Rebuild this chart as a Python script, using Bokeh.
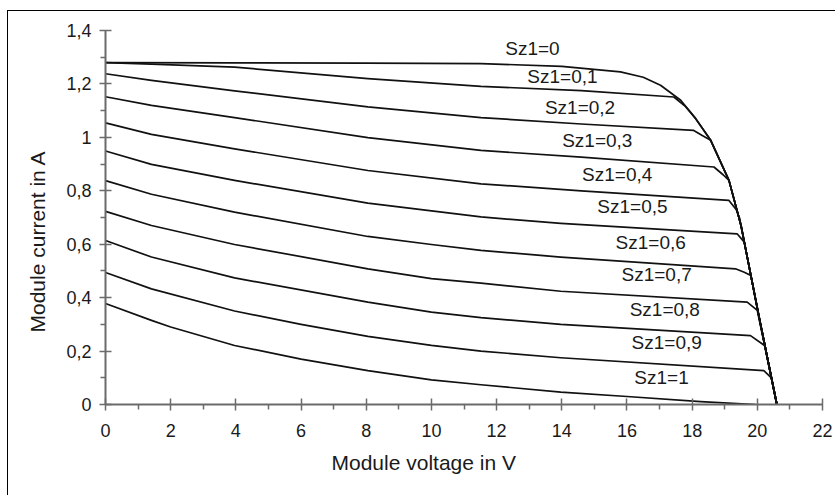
from bokeh.plotting import figure
from bokeh.models import Range1d, FixedTicker, ColumnDataSource, Title
from bokeh.embed import file_html
from bokeh.resources import INLINE
from bokeh.core.properties import value

# ---------------- data ----------------
v_sz0 = [0, 4, 8, 11.52, 14, 15.8, 16.5, 17.03, 17.65, 18.11, 18.57, 19.13, 19.5, 20.05, 20.6]
i_sz0 = [1.280, 1.279, 1.278, 1.276, 1.266, 1.245, 1.225, 1.195, 1.139, 1.07, 0.989, 0.839, 0.67, 0.33, 0.0]

v_sz01 = [0, 1.41, 3.96, 8.05, 11.52, 14.6, 17.44, 17.8, 18.11, 18.57, 19.13, 19.5, 20.05, 20.6]
i_sz01 = [1.280, 1.274, 1.263, 1.220, 1.191, 1.175, 1.151, 1.115, 1.07, 0.989, 0.839, 0.67, 0.33, 0.0]

v_sz02 = [0, 1.41, 3.96, 8.05, 11.52, 14.6, 18.05, 18.31, 18.57, 19.13, 19.5, 20.05, 20.6]
i_sz02 = [1.238, 1.213, 1.174, 1.114, 1.074, 1.050, 1.026, 1.007, 0.989, 0.839, 0.67, 0.33, 0.0]

v_sz03 = [0, 1.41, 3.96, 8.05, 11.52, 14.6, 18.67, 18.95, 19.13, 19.5, 20.05, 20.6]
i_sz03 = [1.152, 1.120, 1.074, 0.999, 0.951, 0.926, 0.889, 0.86, 0.839, 0.67, 0.33, 0.0]

v_sz04 = [0, 1.41, 3.96, 8.05, 11.52, 14.6, 19.13, 19.35, 19.45, 20.05, 20.6]
i_sz04 = [1.054, 1.011, 0.957, 0.876, 0.826, 0.800, 0.764, 0.73, 0.70, 0.33, 0.0]

v_sz05 = [0, 1.41, 3.96, 8.05, 11.52, 13.97, 19.38, 19.6, 20.05, 20.6]
i_sz05 = [0.949, 0.899, 0.839, 0.754, 0.702, 0.678, 0.639, 0.608, 0.33, 0.0]

v_sz06 = [0, 1.41, 3.96, 8.05, 10, 11.52, 13.97, 19.33, 19.6, 19.8, 20.05, 20.6]
i_sz06 = [0.838, 0.787, 0.720, 0.629, 0.599, 0.577, 0.552, 0.508, 0.495, 0.483, 0.33, 0.0]

v_sz07 = [0, 1.41, 3.96, 8.05, 10, 11.52, 13.97, 19.69, 20.0, 20.6]
i_sz07 = [0.723, 0.670, 0.599, 0.508, 0.471, 0.454, 0.424, 0.383, 0.352, 0.0]

v_sz08 = [0, 1.41, 3.96, 8.05, 10, 11.52, 13.97, 19.79, 20.23, 20.6]
i_sz08 = [0.614, 0.552, 0.474, 0.383, 0.346, 0.325, 0.300, 0.258, 0.22, 0.0]

v_sz09 = [0, 1.41, 3.96, 6, 8.05, 10, 11.52, 13.97, 20.2, 20.43, 20.6]
i_sz09 = [0.494, 0.433, 0.350, 0.300, 0.255, 0.221, 0.200, 0.175, 0.127, 0.10, 0.0]

v_sz1 = [0, 1.41, 2.0, 3.96, 6, 8.05, 10, 11.52, 13.97, 16, 18.26, 19.95]
i_sz1 = [0.378, 0.315, 0.29, 0.221, 0.17, 0.127, 0.092, 0.074, 0.046, 0.03, 0.011, 0.0]

curve_labels = ["Sz1=0", "Sz1=0,1", "Sz1=0,2", "Sz1=0,3", "Sz1=0,4", "Sz1=0,5",
                "Sz1=0,6", "Sz1=0,7", "Sz1=0,8", "Sz1=0,9", "Sz1=1"]
label_x = [13.1, 14.02, 14.56, 15.09, 15.7, 16.17, 16.73, 16.91, 17.16, 17.22, 17.06]
label_y = [1.332, 1.226, 1.110, 0.989, 0.861, 0.742, 0.608, 0.487, 0.355, 0.231, 0.102]

x_ticks = [0, 2, 4, 6, 8, 10, 12, 14, 16, 18, 20, 22]
x_minor = [1, 3, 5, 7, 9, 11, 13, 15, 17, 19, 21]
y_ticks = [0, 0.2, 0.4, 0.6, 0.8, 1.0, 1.2, 1.4]
y_tick_labels = ["0", "0,2", "0,4", "0,6", "0,8", "1", "1,2", "1,4"]
y_minor = [0.1, 0.3, 0.5, 0.7, 0.9, 1.1, 1.3]

x_title = "Module voltage in V"
y_title = "Module current in A"

# ---------------- figure ----------------
FONT = "Liberation Sans"
AXIS_COLOR = "#6b6b6b"
TEXT_COLOR = "#1a1a1a"

p = figure(width=828, height=485,
           x_range=Range1d(0, 22), y_range=Range1d(0, 1.4),
           output_backend="svg", toolbar_location=None,
           min_border_left=96, min_border_right=14,
           min_border_top=19, min_border_bottom=92)
p.styles = {"margin-left": "7px", "margin-top": "10px",
            "border-top": "1px solid black", "border-left": "1px solid black"}
p.outline_line_color = None
p.background_fill_color = "white"
p.border_fill_color = "white"
p.xgrid.visible = False
p.ygrid.visible = False

curves = [(v_sz0, i_sz0), (v_sz01, i_sz01), (v_sz02, i_sz02), (v_sz03, i_sz03),
          (v_sz04, i_sz04), (v_sz05, i_sz05), (v_sz06, i_sz06), (v_sz07, i_sz07),
          (v_sz08, i_sz08), (v_sz09, i_sz09), (v_sz1, i_sz1)]
for vv, ii in curves:
    p.line(vv, ii, line_color="#111111", line_width=1.7, line_join="round")

src = ColumnDataSource(dict(x=label_x, y=label_y, t=curve_labels))
p.text(x="x", y="y", text="t", source=src, text_align="center",
       text_baseline="middle", text_font=value(FONT), text_font_size="19px",
       text_color=TEXT_COLOR)

for ax in (p.xaxis[0], p.yaxis[0]):
    ax.axis_line_color = AXIS_COLOR
    ax.axis_line_width = 2
    ax.major_tick_line_color = AXIS_COLOR
    ax.major_tick_line_width = 1.5
    ax.minor_tick_line_color = AXIS_COLOR
    ax.minor_tick_line_width = 1.5
    ax.major_tick_in = 6
    ax.major_tick_out = 6
    ax.minor_tick_in = 0
    ax.minor_tick_out = 5
    ax.major_label_text_font = FONT
    ax.major_label_text_font_size = "18px"
    ax.major_label_text_color = TEXT_COLOR

p.xaxis.ticker = FixedTicker(ticks=x_ticks, minor_ticks=x_minor)
p.xaxis.major_label_overrides = {t: str(t) for t in x_ticks}
p.xaxis.major_label_standoff = 13
p.yaxis.ticker = FixedTicker(ticks=y_ticks, minor_ticks=y_minor)
p.yaxis.major_label_overrides = dict(zip(y_ticks, y_tick_labels))
p.yaxis.major_label_standoff = 8

p.add_layout(Title(text=x_title, align="left", offset=226, standoff=19,
                   text_font=FONT, text_font_size="21px",
                   text_font_style="normal", text_color=TEXT_COLOR), "below")
p.add_layout(Title(text=y_title, align="left", offset=72, standoff=30,
                   text_font=FONT, text_font_size="21px",
                   text_font_style="normal", text_color=TEXT_COLOR), "left")

open("out.html", "w").write(file_html(p, INLINE))
